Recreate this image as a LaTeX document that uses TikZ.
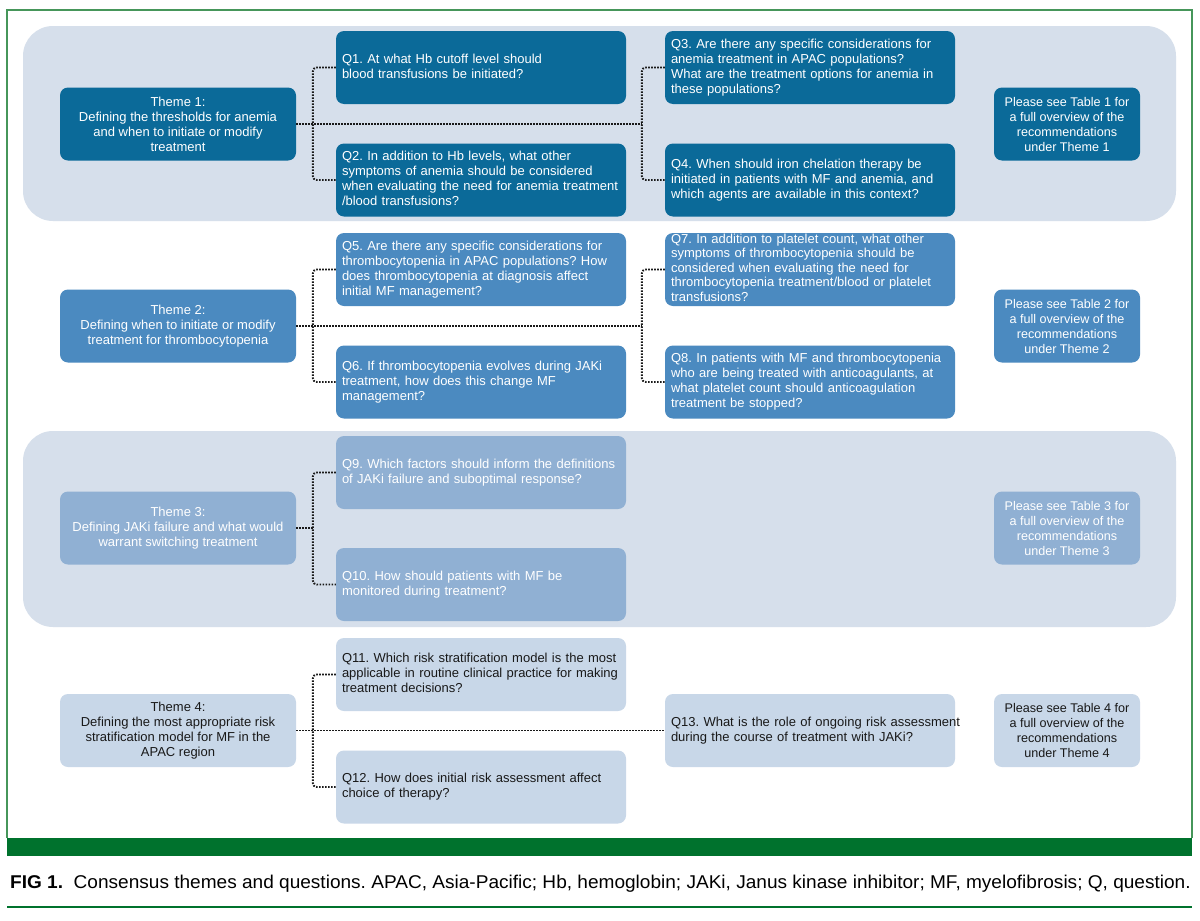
\documentclass[tikz,border=0pt]{standalone}
\usepackage{fontspec}
\setmainfont{Liberation Sans}
\newfontfamily\capfont[FakeStretch=1.03]{Liberation Sans}
\usetikzlibrary{calc}
\definecolor{cone}{RGB}{11,106,153}
\definecolor{ctwo}{RGB}{75,138,192}
\definecolor{cthree}{RGB}{144,176,211}
\definecolor{cfour}{RGB}{200,215,232}
\definecolor{cband}{RGB}{214,223,235}
\definecolor{gframe}{RGB}{70,150,90}
\definecolor{gbar}{RGB}{0,114,45}
\definecolor{conncol}{RGB}{25,25,25}
\newcommand{\lft}[1]{\begin{tabular}{@{}l@{}}#1\end{tabular}}
\frenchspacing
\begin{document}
\begin{tikzpicture}[x=1pt,y=-1pt,
  boxbase/.style={rectangle, rounded corners=8pt, inner sep=0pt, font=\fontsize{13}{15}\selectfont\frenchspacing},
  qbox/.style={boxbase, minimum height=73pt, text width=278pt, inner xsep=6pt, align=left},
  tbox/.style={boxbase, minimum height=73pt, minimum width=236pt, align=center},
  pbox/.style={boxbase, minimum height=73pt, minimum width=146pt, align=center, font=\fontsize{12.6}{15}\selectfont},
  lvone/.style={fill=cone, text=white},
  lvtwo/.style={fill=ctwo, text=white},
  lvthree/.style={fill=cthree, text=white},
  lvfour/.style={fill=cfour, text=black!90},
  conn/.style={draw=conncol, line width=1.9pt, dash pattern=on 1.6pt off 1.4pt},
  bkt/.style={conn, rounded corners=4pt},
  band/.style={fill=cband, rounded corners=30pt}
]
\useasboundingbox (0,0) rectangle (1200,921);
\fill[white] (0,0) rectangle (1200,921);
% frame
\draw[gframe, line width=1.5pt] (7,838) -- (7,10) -- (1192,10) -- (1192,838);
\fill[gbar] (7,838) rectangle (1192,856);
\draw[gbar, line width=2pt] (7,907) -- (1192,907);
% bands
\fill[band] (23,26) rectangle (1176,221);
\fill[band] (23,431) rectangle (1176,627);

% Theme 1
\node[tbox, lvone] (t1) at (178,124) {Theme 1:\\Defining the thresholds for anemia\\and when to initiate or modify\\treatment};
\node[qbox, lvone] (q1) at (481,67.5) {\lft{Q1. At what Hb cutoff level should\\blood transfusions be initiated?}};
\node[qbox, lvone] (q2) at (481,180) {\lft{Q2. In addition to Hb levels, what other\\symptoms of anemia should be considered\\when evaluating the need for anemia treatment\\/blood transfusions?}};
\node[qbox, lvone] (q3) at (810,67.5) {\lft{Q3. Are there any specific considerations for\\anemia treatment in APAC populations?\\What are the treatment options for anemia in\\these populations?}};
\node[qbox, lvone] (q4) at (810,180) {\lft{Q4. When should iron chelation therapy be\\initiated in patients with MF and anemia, and\\which agents are available in this context?}};
\node[pbox, lvone] (p1) at (1067,124) {Please see Table 1 for\\a full overview of the\\recommendations\\under Theme 1};

% Theme 2
\node[tbox, lvtwo] (t2) at (178,326) {Theme 2:\\Defining when to initiate or modify\\treatment for thrombocytopenia};
\node[qbox, lvtwo] (q5) at (481,269.5) {\lft{Q5. Are there any specific considerations for\\thrombocytopenia in APAC populations? How\\does thrombocytopenia at diagnosis affect\\initial MF management?}};
\node[qbox, lvtwo] (q6) at (481,382) {\lft{Q6. If thrombocytopenia evolves during JAKi\\treatment, how does this change MF\\management?}};
\node[qbox, lvtwo] (q7) at (810,269.5) {\fontsize{13}{14.4}\selectfont\lft{Q7. In addition to platelet count, what other\\symptoms of thrombocytopenia should be\\considered when evaluating the need for\\thrombocytopenia treatment/blood or platelet\\transfusions?}};
\node[qbox, lvtwo] (q8) at (810,382) {\lft{Q8. In patients with MF and thrombocytopenia\\who are being treated with anticoagulants, at\\what platelet count should anticoagulation\\treatment be stopped?}};
\node[pbox, lvtwo] (p2) at (1067,326) {Please see Table 2 for\\a full overview of the\\recommendations\\under Theme 2};

% Theme 3
\node[tbox, lvthree] (t3) at (178,528) {Theme 3:\\Defining JAKi failure and what would\\warrant switching treatment};
\node[qbox, lvthree] (q9) at (481,472.5) {\lft{Q9. Which factors should inform the definitions\\of JAKi failure and suboptimal response?}};
\node[qbox, lvthree] (q10) at (481,584.5) {\lft{Q10. How should patients with MF be\\monitored during treatment?}};
\node[pbox, lvthree] (p3) at (1067,528) {Please see Table 3 for\\a full overview of the\\recommendations\\under Theme 3};

% Theme 4
\node[tbox, lvfour] (t4) at (178,730.5) {Theme 4:\\Defining the most appropriate risk\\stratification model for MF in the\\APAC region};
\node[qbox, lvfour] (q11) at (481,674.5) {\lft{Q11. Which risk stratification model is the most\\applicable in routine clinical practice for making\\treatment decisions?}};
\node[qbox, lvfour] (q12) at (481,787) {\lft{Q12. How does initial risk assessment affect\\choice of therapy?}};
\node[qbox, lvfour] (q13) at (810,730.5) {\lft{Q13. What is the role of ongoing risk assessment\\during the course of treatment with JAKi?}};
\node[pbox, lvfour] (p4) at (1067,730.5) {Please see Table 4 for\\a full overview of the\\recommendations\\under Theme 4};

% connectors theme 1
\draw[conn] (t1.east) -- ($(q3.west |- t1.east)+(-23,0)$);
\draw[bkt] (q1.west) -- ++(-23,0) |- (q2.west);
\draw[bkt] (q3.west) -- ++(-23,0) |- (q4.west);
% theme 2
\draw[conn] (t2.east) -- ($(q7.west |- t2.east)+(-23,0)$);
\draw[bkt] (q5.west) -- ++(-23,0) |- (q6.west);
\draw[bkt] (q7.west) -- ++(-23,0) |- (q8.west);
% theme 3
\draw[conn] (t3.east) -- ($(q9.west |- t3.east)+(-23,0)$);
\draw[bkt] (q9.west) -- ++(-23,0) |- (q10.west);
% theme 4
\draw[conn] (t4.east) -- (q13.west);
\draw[bkt] (q11.west) -- ++(-23,0) |- (q12.west);

% caption
\node[anchor=west, inner sep=0pt, font=\capfont\fontsize{18.5}{20}\selectfont] (cap) at (10,884) {\textbf{FIG 1.}\ \ Consensus themes and questions. APAC, Asia-Pacific; Hb, hemoglobin; JAKi, Janus kinase inhibitor; MF, myelofibrosis; Q, question.};
\end{tikzpicture}
\end{document}
